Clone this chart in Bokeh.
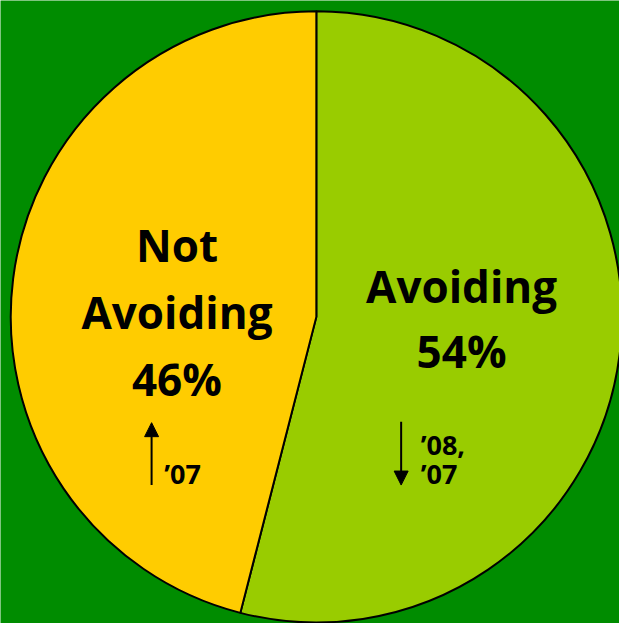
from bokeh.plotting import figure
from bokeh.models import Range1d, Arrow, NormalHead, ColumnDataSource
from bokeh.core.properties import value
from bokeh.embed import file_html
from bokeh.resources import INLINE
import math

# ---- data ----
categories = ["Avoiding", "Not Avoiding"]
shares = [54, 46]
slice_colors = ["#99CC00", "#FFCC00"]
pct_labels = ["54%", "46%"]
trend_labels = [["\u201908,", "\u201907"], ["\u201907"]]

W, H = 619, 623
K = W / 635.0
def sx(x):  # reference px -> data x
    return x * K
def sy(y):  # reference px -> data y
    return H - y * (H / 639.0)

p = figure(width=W, height=H, output_backend="svg", toolbar_location=None,
           x_range=Range1d(0, W), y_range=Range1d(0, H),
           min_border=0, background_fill_color="#008C00",
           border_fill_color="#008C00")
p.axis.visible = False
p.grid.visible = False
p.outline_line_color = None

cx, cy, r = sx(324), sy(324.5), 313.5 * K

# wedges, clockwise from 12 o'clock
total = sum(shares)
starts, ends = [], []
acc = 0.0
for s in shares:
    a0 = math.pi / 2 - 2 * math.pi * acc / total
    acc += s
    a1 = math.pi / 2 - 2 * math.pi * acc / total
    starts.append(a0)
    ends.append(a1)

src = ColumnDataSource(dict(start=starts, end=ends, color=slice_colors))
p.wedge(x=cx, y=cy, radius=r, start_angle="start", end_angle="end",
        direction="clock", fill_color="color", line_color="black",
        line_width=2, source=src)

font = value("Open Sans")
big = "44px"
small = "27px"

# Avoiding (right)
p.text(x=[sx(473), sx(473)], y=[sy(293), sy(360)],
       text=[categories[0], pct_labels[0]], text_font=font,
       text_font_style="bold", text_font_size=big, text_align="center",
       text_baseline="alphabetic", text_color="black")
# Not Avoiding (left)
words = categories[1].split(" ")
p.text(x=[sx(181), sx(181), sx(181)], y=[sy(251), sy(319), sy(388)],
       text=[words[0], words[1], pct_labels[1]], text_font=font,
       text_font_style="bold", text_font_size=big, text_align="center",
       text_baseline="alphabetic", text_color="black")

# trend notes
p.text(x=[sx(431), sx(431)], y=[sy(455), sy(485)], text=trend_labels[0],
       text_font=font, text_font_style="bold", text_font_size=small,
       text_align="left", text_baseline="alphabetic", text_color="black")
p.text(x=[sx(168)], y=[sy(485)], text=trend_labels[1],
       text_font=font, text_font_style="bold", text_font_size=small,
       text_align="left", text_baseline="alphabetic", text_color="black")

# arrows
p.add_layout(Arrow(end=NormalHead(size=14, fill_color="black", line_color="black"),
                   x_start=sx(155), y_start=sy(497), x_end=sx(155), y_end=sy(433),
                   line_color="black", line_width=2))
p.add_layout(Arrow(end=NormalHead(size=14, fill_color="black", line_color="black"),
                   x_start=sx(411), y_start=sy(432), x_end=sx(411), y_end=sy(497),
                   line_color="black", line_width=2))

open("out.html", "w").write(file_html(p, INLINE))
